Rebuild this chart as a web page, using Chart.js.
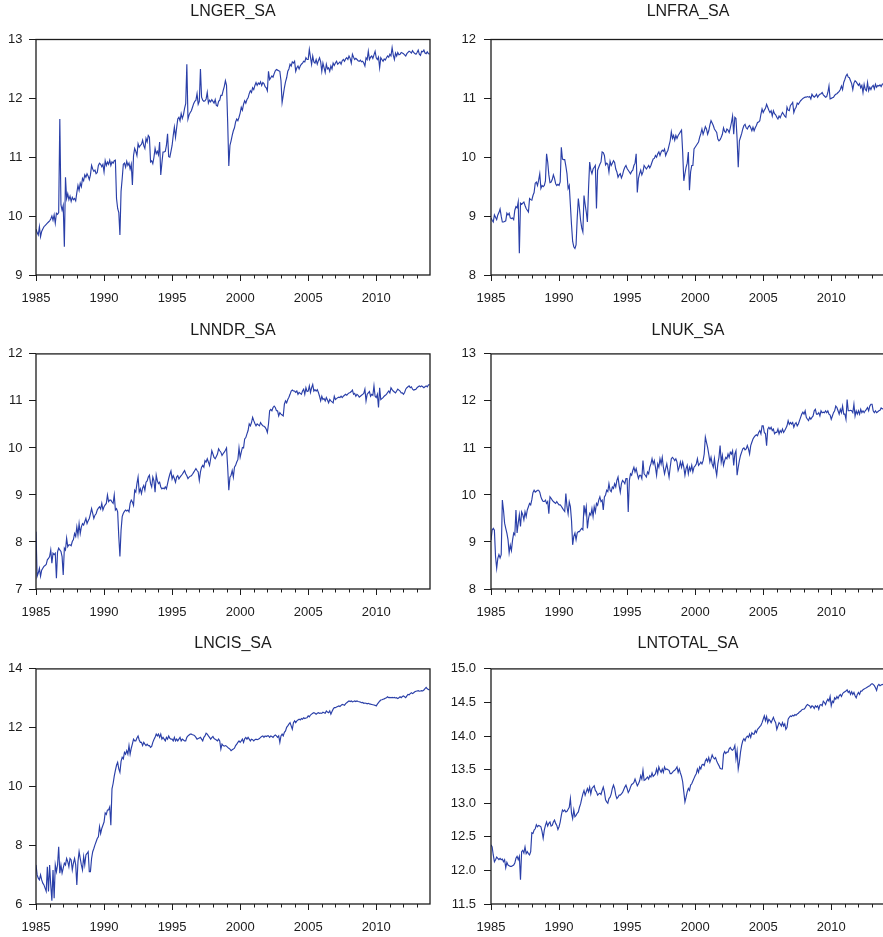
<!DOCTYPE html>
<html>
<head>
<meta charset="utf-8">
<title>LN series (SA)</title>
<script src="https://cdn.jsdelivr.net/npm/chart.js@4.4.1/dist/chart.umd.min.js"></script>
<style>
  html, body { margin: 0; padding: 0; background: #fff; overflow: hidden; }
  body { width: 883px; height: 937px; position: relative; }
  canvas { position: absolute; }
</style>
</head>
<body>
<canvas id="cGer"></canvas>
<canvas id="cFra"></canvas>
<canvas id="cNdr"></canvas>
<canvas id="cUk"></canvas>
<canvas id="cCis"></canvas>
<canvas id="cTotal"></canvas>
<script>
// monthly series, Jan 1985 .. Dec 2013 (one row per year)
const START_YEAR = 1985;
const X_MIN = 1985;
const X_MAX = 2013.95;
const X_TICKS = [1985, 1990, 1995, 2000, 2005, 2010];

const GER = [
  9.78, 9.72, 9.68, 9.82, 9.65, 9.74, 9.78, 9.82, 9.84, 9.86, 9.88, 9.90,
  9.92, 9.95, 10.00, 9.93, 10.02, 9.88, 10.05, 10.03, 10.06, 11.65, 10.19, 10.10,
  10.18, 9.48, 10.66, 10.30, 10.38, 10.28, 10.34, 10.25, 10.32, 10.28, 10.30, 10.26,
  10.40, 10.52, 10.44, 10.56, 10.50, 10.64, 10.60, 10.70, 10.66, 10.72, 10.68, 10.62,
  10.70, 10.86, 10.80, 10.76, 10.78, 10.72, 10.74, 10.86, 10.90, 10.88, 10.84, 10.88,
  10.75, 10.94, 10.86, 10.92, 10.88, 10.95, 10.86, 10.92, 10.90, 10.94, 10.95, 10.30,
  10.13, 10.06, 9.68, 10.42, 10.64, 10.88, 10.90, 10.83, 10.93, 10.86, 10.90, 10.80,
  10.88, 10.53, 11.03, 11.15, 11.10, 11.03, 11.23, 11.17, 11.20, 11.22, 11.29, 11.20,
  11.15, 11.32, 11.26, 11.37, 11.34, 10.92, 10.94, 10.89, 11.00, 11.15, 11.06, 11.10,
  11.04, 11.26, 10.70, 10.90, 11.09, 11.09, 11.10, 11.20, 11.40, 11.01, 11.00, 11.10,
  11.20, 11.37, 11.51, 11.34, 11.50, 11.65, 11.68, 11.62, 11.74, 11.66, 11.72, 11.83,
  11.91, 12.58, 11.65, 11.72, 11.76, 11.79, 11.85, 11.91, 11.95, 11.97, 12.08, 11.90,
  11.95, 12.50, 12.02, 11.97, 11.95, 11.96, 11.99, 12.10, 11.92, 11.97, 11.94, 11.98,
  11.95, 11.92, 11.98, 11.88, 11.87, 11.95, 11.97, 12.05, 12.05, 12.13, 12.20, 12.30,
  12.22, 11.60, 10.85, 11.20, 11.28, 11.37, 11.45, 11.50, 11.60, 11.65, 11.62, 11.68,
  11.75, 11.85, 11.80, 11.90, 11.96, 11.92, 11.98, 12.01, 12.08, 12.13, 12.10, 12.18,
  12.15, 12.22, 12.27, 12.22, 12.26, 12.24, 12.28, 12.22, 12.27, 12.25, 12.20, 12.18,
  12.13, 12.46, 12.32, 12.35, 12.38, 12.36, 12.42, 12.47, 12.49, 12.48, 12.47, 12.46,
  12.30, 11.93, 12.05, 12.18, 12.28, 12.35, 12.46, 12.50, 12.58, 12.55, 12.62, 12.60,
  12.63, 12.46, 12.52, 12.55, 12.50, 12.55, 12.58, 12.60, 12.63, 12.62, 12.69, 12.66,
  12.66, 12.83, 12.70, 12.58, 12.72, 12.62, 12.60, 12.66, 12.58, 12.64, 12.69, 12.62,
  12.46, 12.60, 12.52, 12.44, 12.58, 12.50, 12.52, 12.46, 12.55, 12.50, 12.60, 12.56,
  12.60, 12.63, 12.58, 12.60, 12.62, 12.58, 12.64, 12.66, 12.63, 12.67, 12.69, 12.66,
  12.72, 12.68, 12.60, 12.75, 12.70, 12.66, 12.68, 12.66, 12.64, 12.63, 12.65, 12.62,
  12.63, 12.60, 12.55, 12.69, 12.66, 12.80, 12.66, 12.70, 12.72, 12.68, 12.74, 12.80,
  12.69, 12.66, 12.70, 12.52, 12.69, 12.66, 12.63, 12.67, 12.65, 12.69, 12.72, 12.70,
  12.75, 12.72, 12.86, 12.74, 12.66, 12.77, 12.72, 12.78, 12.74, 12.75, 12.78, 12.77,
  12.76, 12.74, 12.72, 12.76, 12.78, 12.80, 12.79, 12.77, 12.81, 12.78, 12.76, 12.75,
  12.78, 12.82, 12.75, 12.73, 12.80, 12.79, 12.82, 12.77, 12.76, 12.79, 12.76, 12.75
];

const FRA = [
  8.97, 8.93, 8.90, 9.02, 8.98, 8.94, 9.02, 9.06, 9.12, 9.00, 8.90, 8.90,
  8.91, 8.92, 9.05, 9.02, 9.05, 8.97, 8.96, 8.97, 8.94, 9.10, 9.16, 9.14,
  9.24, 8.37, 9.22, 9.20, 9.22, 9.24, 9.18, 9.13, 9.10, 9.07, 9.30, 9.28,
  9.27, 9.35, 9.40, 9.56, 9.58, 9.52, 9.61, 9.72, 9.47, 9.52, 9.50, 9.52,
  9.60, 10.06, 9.92, 9.70, 9.57, 9.58, 9.62, 9.70, 9.64, 9.55, 9.52, 9.54,
  9.52, 9.58, 10.17, 9.97, 9.96, 9.96, 9.85, 9.72, 9.47, 9.52, 9.19, 8.85,
  8.57, 8.48, 8.45, 8.51, 8.96, 9.30, 9.13, 8.93, 8.80, 8.73, 9.35, 9.20,
  9.07, 8.90, 9.47, 9.92, 9.78, 9.72, 9.80, 9.83, 9.86, 9.13, 9.78, 9.83,
  9.88, 9.92, 10.09, 10.08, 10.03, 9.87, 9.90, 9.88, 9.75, 9.93, 9.86, 9.90,
  9.94, 9.91, 9.80, 9.75, 9.66, 9.70, 9.72, 9.65, 9.70, 9.78, 9.83, 9.86,
  9.81, 9.78, 9.75, 9.72, 9.76, 9.78, 9.86, 9.90, 10.06, 9.40, 9.64, 9.72,
  9.78, 9.70, 9.75, 9.86, 9.83, 9.80, 9.83, 9.86, 9.82, 9.86, 9.92, 9.97,
  9.98, 10.03, 10.00, 10.06, 10.09, 10.03, 10.09, 10.12, 10.10, 10.14, 10.03, 10.08,
  10.12, 10.20, 10.28, 10.43, 10.32, 10.37, 10.29, 10.37, 10.32, 10.37, 10.40, 10.43,
  10.46, 10.09, 9.60, 9.72, 9.83, 9.90, 10.09, 9.44, 9.75, 9.86, 9.86, 10.14,
  10.17, 10.20, 10.23, 10.26, 10.34, 10.40, 10.48, 10.39, 10.45, 10.52, 10.48, 10.39,
  10.45, 10.55, 10.62, 10.58, 10.54, 10.48, 10.45, 10.42, 10.31, 10.28, 10.30, 10.34,
  10.39, 10.50, 10.44, 10.42, 10.48, 10.46, 10.42, 10.50, 10.59, 10.70, 10.39, 10.68,
  10.66, 10.31, 9.83, 10.28, 10.34, 10.40, 10.48, 10.54, 10.56, 10.50, 10.48, 10.52,
  10.54, 10.50, 10.45, 10.51, 10.45, 10.50, 10.54, 10.59, 10.60, 10.62, 10.73, 10.82,
  10.76, 10.80, 10.83, 10.90, 10.85, 10.80, 10.76, 10.79, 10.70, 10.79, 10.74, 10.72,
  10.68, 10.65, 10.70, 10.67, 10.72, 10.76, 10.73, 10.70, 10.68, 10.85, 10.80, 10.79,
  10.88, 10.90, 10.93, 10.76, 10.82, 10.85, 10.92, 10.90, 10.93, 10.96, 10.98, 11.00,
  11.01, 11.02, 11.02, 11.03, 11.02, 11.03, 10.99, 11.07, 11.04, 11.02, 11.04, 11.07,
  11.02, 11.05, 11.07, 11.08, 11.10, 11.06, 11.04, 11.02, 11.03, 11.10, 11.21, 10.99,
  11.00, 11.01, 11.02, 11.05, 11.07, 11.08, 11.10, 11.12, 11.15, 11.21, 11.15, 11.27,
  11.32, 11.38, 11.41, 11.36, 11.35, 11.30, 11.25, 11.15, 11.26, 11.30, 11.28, 11.25,
  11.22, 11.25, 11.18, 11.22, 11.10, 11.24, 11.15, 11.13, 11.27, 11.13, 11.19, 11.15,
  11.20, 11.22, 11.16, 11.24, 11.19, 11.22, 11.21, 11.23, 11.20, 11.24, 11.25, 11.24
];

const NDR = [
  8.22, 7.27, 7.34, 7.44, 7.27, 7.40, 7.44, 7.48, 7.50, 7.52, 7.62, 7.65,
  7.69, 7.83, 7.55, 7.76, 7.73, 7.76, 7.23, 7.79, 7.87, 7.83, 7.80, 7.69,
  7.30, 7.87, 7.83, 8.08, 7.90, 7.94, 7.94, 7.92, 8.01, 8.05, 8.18, 8.12,
  8.32, 8.15, 8.39, 8.18, 8.32, 8.39, 8.36, 8.43, 8.50, 8.39, 8.45, 8.50,
  8.60, 8.71, 8.61, 8.50, 8.57, 8.60, 8.68, 8.72, 8.75, 8.70, 8.82, 8.68,
  8.75, 8.79, 8.82, 9.00, 8.86, 8.89, 8.89, 8.85, 8.82, 9.00, 8.68, 8.71,
  8.64, 8.11, 7.69, 8.25, 8.54, 8.61, 8.65, 8.68, 8.66, 8.68, 8.64, 8.82,
  8.89, 8.85, 8.78, 9.10, 9.06, 9.24, 9.38, 9.06, 9.13, 9.03, 9.15, 9.20,
  9.10, 9.27, 9.30, 9.38, 9.42, 9.24, 9.17, 9.38, 9.30, 9.06, 9.42, 9.30,
  9.24, 9.27, 9.17, 9.13, 9.15, 9.13, 9.17, 9.13, 9.24, 9.35, 9.44, 9.51,
  9.34, 9.41, 9.35, 9.27, 9.38, 9.41, 9.34, 9.38, 9.41, 9.44, 9.48, 9.52,
  9.45, 9.41, 9.35, 9.38, 9.40, 9.41, 9.44, 9.48, 9.52, 9.56, 9.52, 9.49,
  9.31, 9.49, 9.59, 9.63, 9.59, 9.73, 9.70, 9.77, 9.70, 9.63, 9.77, 9.94,
  9.87, 9.80, 9.77, 9.82, 9.87, 9.98, 9.94, 9.91, 9.84, 9.88, 9.91, 9.95,
  10.00, 9.59, 9.10, 9.38, 9.42, 9.52, 9.38, 9.59, 9.63, 9.70, 9.75, 10.00,
  9.80, 9.91, 10.01, 10.00, 10.19, 10.22, 10.30, 10.37, 10.51, 10.47, 10.54, 10.65,
  10.58, 10.52, 10.47, 10.51, 10.49, 10.47, 10.54, 10.50, 10.47, 10.46, 10.44, 10.40,
  10.33, 10.51, 10.79, 10.82, 10.79, 10.86, 10.89, 10.86, 10.79, 10.79, 10.68, 10.75,
  10.72, 10.70, 10.68, 10.93, 11.00, 10.96, 11.03, 11.08, 11.14, 11.21, 11.23, 11.21,
  11.21, 11.18, 11.21, 11.14, 11.18, 11.16, 11.14, 11.21, 11.25, 11.14, 11.28, 11.20,
  11.21, 11.32, 11.18, 11.28, 11.35, 11.21, 11.24, 11.21, 11.24, 11.18, 11.10, 11.00,
  11.10, 11.03, 11.05, 11.00, 11.07, 11.02, 10.96, 11.03, 11.00, 10.98, 10.96, 11.10,
  11.03, 11.05, 11.07, 11.08, 11.07, 11.10, 11.07, 11.10, 11.12, 11.14, 11.12, 11.15,
  11.17, 11.18, 11.20, 11.23, 11.14, 11.16, 11.10, 11.14, 11.12, 11.08, 11.10, 11.12,
  11.14, 11.16, 11.25, 11.00, 11.14, 11.17, 11.20, 11.10, 11.14, 11.12, 11.32, 11.10,
  11.07, 11.14, 10.86, 11.28, 11.03, 11.05, 11.07, 11.10, 11.12, 11.14, 11.18, 11.21,
  11.17, 11.28, 11.24, 11.21, 11.19, 11.17, 11.21, 11.25, 11.23, 11.21, 11.17, 11.17,
  11.14, 11.18, 11.25, 11.28, 11.30, 11.32, 11.28, 11.30, 11.25, 11.23, 11.24, 11.25,
  11.28, 11.30, 11.32, 11.30, 11.32, 11.30, 11.28, 11.30, 11.32, 11.30, 11.34, 11.35
];

const UK = [
  9.04, 9.25, 9.29, 9.25, 8.69, 8.44, 8.65, 8.73, 8.66, 8.73, 9.89, 9.68,
  9.40, 9.29, 9.19, 9.05, 8.77, 8.93, 8.82, 9.04, 9.19, 9.15, 9.68, 9.19,
  9.40, 9.58, 9.33, 9.64, 9.58, 9.47, 9.64, 9.54, 9.68, 9.75, 9.82, 9.79,
  9.90, 10.05, 10.10, 10.06, 10.08, 10.10, 10.10, 10.06, 9.96, 9.90, 9.86, 9.86,
  9.89, 9.82, 9.86, 9.60, 9.96, 9.93, 9.89, 9.86, 9.84, 9.82, 9.86, 9.82,
  9.79, 9.79, 9.76, 9.72, 9.68, 9.65, 10.03, 9.75, 9.60, 9.85, 9.75, 9.45,
  8.94, 9.12, 9.19, 9.05, 9.19, 9.22, 9.22, 9.26, 9.29, 9.26, 9.78, 9.61,
  9.75, 9.29, 9.50, 9.61, 9.57, 9.71, 9.54, 9.75, 9.64, 9.82, 9.78, 9.89,
  9.96, 9.86, 9.89, 9.68, 9.96, 10.00, 10.10, 10.07, 10.24, 10.10, 10.07, 10.17,
  10.14, 10.24, 10.17, 10.31, 10.38, 10.20, 10.06, 10.24, 10.31, 10.28, 10.24, 10.35,
  10.35, 9.64, 10.31, 10.45, 10.42, 10.52, 10.59, 10.49, 10.56, 10.45, 10.35, 10.42,
  10.42, 10.35, 10.73, 10.45, 10.42, 10.38, 10.49, 10.45, 10.59, 10.66, 10.77, 10.66,
  10.73, 10.59, 10.42, 10.66, 10.59, 10.77, 10.66, 10.80, 10.59, 10.45, 10.56, 10.66,
  10.52, 10.38, 10.59, 10.77, 10.80, 10.77, 10.73, 10.77, 10.70, 10.52, 10.59, 10.70,
  10.59, 10.70, 10.59, 10.42, 10.56, 10.63, 10.45, 10.59, 10.52, 10.63, 10.49, 10.59,
  10.62, 10.66, 10.77, 10.63, 10.66, 10.70, 10.66, 10.73, 10.87, 11.23, 11.12, 11.01,
  10.87, 10.70, 10.80, 10.66, 10.59, 10.77, 10.56, 10.42, 10.66, 10.80, 11.05, 10.70,
  10.84, 10.63, 10.73, 10.80, 10.77, 10.87, 10.80, 10.91, 10.87, 10.94, 10.63, 10.87,
  10.94, 10.42, 10.59, 10.73, 10.84, 10.91, 10.98, 11.00, 10.96, 10.98, 11.05, 10.98,
  10.87, 11.05, 11.12, 11.19, 11.23, 11.26, 11.28, 11.26, 11.33, 11.37, 11.30, 11.47,
  11.47, 11.33, 11.30, 11.05, 11.40, 11.44, 11.40, 11.44, 11.37, 11.40, 11.30, 11.33,
  11.33, 11.40, 11.30, 11.37, 11.33, 11.40, 11.33, 11.37, 11.42, 11.47, 11.58, 11.50,
  11.54, 11.51, 11.54, 11.44, 11.51, 11.54, 11.47, 11.51, 11.58, 11.65, 11.72, 11.76,
  11.72, 11.79, 11.65, 11.61, 11.58, 11.65, 11.61, 11.65, 11.68, 11.79, 11.82, 11.72,
  11.72, 11.75, 11.68, 11.79, 11.75, 11.76, 11.75, 11.79, 11.75, 11.79, 11.72, 11.70,
  11.61, 11.68, 11.75, 11.79, 11.89, 11.86, 11.79, 11.72, 11.82, 11.75, 11.89, 11.72,
  11.72, 11.61, 12.03, 11.79, 11.79, 11.80, 11.79, 11.75, 11.93, 11.68, 11.79, 11.72,
  11.79, 11.72, 11.82, 11.75, 11.79, 11.75, 11.79, 11.82, 11.86, 11.79, 11.89, 11.93,
  11.93, 11.79, 11.75, 11.79, 11.75, 11.77, 11.79, 11.80, 11.85, 11.83, 11.84, 11.85
];

const CIS = [
  7.33, 6.99, 6.88, 6.82, 6.99, 6.82, 6.71, 6.65, 6.54, 6.43, 7.27, 6.43,
  7.33, 6.65, 6.11, 7.16, 6.20, 7.33, 7.10, 7.33, 7.95, 7.05, 7.33, 7.05,
  7.22, 7.39, 7.33, 7.55, 7.44, 7.27, 7.55, 7.50, 7.16, 7.39, 7.55, 7.33,
  6.65, 7.44, 7.78, 7.55, 7.33, 7.16, 7.61, 7.33, 7.67, 7.72, 7.78, 7.10,
  7.10, 7.55, 7.78, 7.89, 8.01, 8.12, 8.23, 8.29, 8.63, 8.40, 8.57, 8.68,
  8.79, 9.10, 9.05, 9.20, 9.20, 9.30, 8.68, 9.92, 10.10, 10.35, 10.55, 10.72,
  10.82, 10.60, 10.48, 10.85, 10.99, 10.94, 11.16, 11.10, 11.22, 11.10, 11.39, 11.10,
  11.30, 11.45, 11.61, 11.55, 11.55, 11.65, 11.72, 11.58, 11.50, 11.50, 11.39, 11.50,
  11.44, 11.39, 11.44, 11.39, 11.39, 11.33, 11.36, 11.50, 11.60, 11.67, 11.78, 11.72,
  11.78, 11.67, 11.78, 11.61, 11.67, 11.61, 11.55, 11.67, 11.61, 11.72, 11.64, 11.61,
  11.61, 11.55, 11.67, 11.55, 11.61, 11.55, 11.61, 11.67, 11.55, 11.61, 11.58, 11.55,
  11.55, 11.67, 11.72, 11.75, 11.78, 11.78, 11.76, 11.75, 11.72, 11.67, 11.61, 11.63,
  11.65, 11.67, 11.61, 11.55, 11.67, 11.72, 11.81, 11.78, 11.72, 11.67, 11.61, 11.66,
  11.70, 11.63, 11.61, 11.58, 11.55, 11.61, 11.55, 11.27, 11.44, 11.39, 11.37, 11.39,
  11.37, 11.33, 11.30, 11.27, 11.22, 11.25, 11.27, 11.30, 11.39, 11.44, 11.50, 11.55,
  11.50, 11.55, 11.61, 11.50, 11.62, 11.67, 11.61, 11.67, 11.61, 11.55, 11.61, 11.59,
  11.55, 11.59, 11.61, 11.59, 11.61, 11.63, 11.67, 11.70, 11.72, 11.67, 11.72, 11.70,
  11.72, 11.72, 11.67, 11.72, 11.70, 11.67, 11.72, 11.75, 11.72, 11.67, 11.72, 11.50,
  11.72, 11.78, 11.72, 11.84, 11.89, 12.01, 12.06, 12.12, 12.17, 12.06, 11.95, 12.17,
  12.23, 12.17, 12.23, 12.26, 12.29, 12.26, 12.31, 12.29, 12.34, 12.31, 12.33, 12.34,
  12.40, 12.37, 12.43, 12.46, 12.49, 12.51, 12.49, 12.46, 12.49, 12.51, 12.49, 12.50,
  12.49, 12.53, 12.51, 12.49, 12.57, 12.53, 12.51, 12.57, 12.46, 12.55, 12.63, 12.68,
  12.68, 12.70, 12.72, 12.74, 12.72, 12.76, 12.79, 12.78, 12.76, 12.82, 12.85, 12.88,
  12.91, 12.89, 12.91, 12.88, 12.89, 12.91, 12.89, 12.91, 12.89, 12.88, 12.87, 12.85,
  12.86, 12.83, 12.84, 12.83, 12.81, 12.83, 12.81, 12.80, 12.79, 12.78, 12.77, 12.76,
  12.74, 12.80, 12.85, 12.90, 12.94, 12.95, 12.97, 12.98, 13.00, 13.02, 13.05, 13.02,
  13.03, 13.02, 13.03, 13.02, 13.03, 13.01, 13.02, 12.99, 13.02, 13.05, 13.02, 13.06,
  13.08, 13.05, 13.02, 13.08, 13.13, 13.12, 13.16, 13.19, 13.16, 13.19, 13.22, 13.24,
  13.25, 13.26, 13.24, 13.25, 13.26, 13.25, 13.28, 13.33, 13.37, 13.32, 13.30, 13.28
];

const TOTAL = [
  12.38, 12.35, 12.23, 12.13, 12.16, 12.20, 12.18, 12.16, 12.18, 12.16, 12.17, 12.13,
  12.16, 12.04, 12.12, 12.08, 12.07, 12.06, 12.06, 12.07, 12.08, 12.11, 12.18, 12.21,
  12.16, 12.21, 11.86, 12.28, 12.30, 12.26, 12.35, 12.25, 12.28, 12.25, 12.23, 12.28,
  12.56, 12.55, 12.60, 12.62, 12.68, 12.65, 12.67, 12.66, 12.65, 12.58, 12.48, 12.60,
  12.67, 12.72, 12.66, 12.70, 12.72, 12.66, 12.67, 12.72, 12.75, 12.70, 12.67, 12.61,
  12.65, 12.72, 12.82, 12.90, 12.88, 12.90, 12.87, 12.88, 12.91, 12.94, 13.07, 12.85,
  12.77, 12.90, 12.80, 12.82, 12.85, 12.87, 12.94, 12.99, 13.07, 13.14, 13.19, 13.12,
  13.17, 13.22, 13.17, 13.24, 13.14, 13.22, 13.24, 13.26, 13.19, 13.17, 13.12, 13.14,
  13.15, 13.13, 13.19, 13.24, 13.17, 13.05, 13.02, 13.00, 13.07, 13.09, 13.14, 13.22,
  13.27, 13.22, 13.12, 13.07, 13.09, 13.12, 13.12, 13.14, 13.16, 13.20, 13.24, 13.27,
  13.22, 13.16, 13.19, 13.24, 13.28, 13.29, 13.31, 13.36, 13.31, 13.26, 13.29, 13.33,
  13.41, 13.36, 13.49, 13.34, 13.35, 13.37, 13.39, 13.36, 13.41, 13.39, 13.45, 13.40,
  13.42, 13.44, 13.51, 13.44, 13.54, 13.49, 13.46, 13.51, 13.46, 13.54, 13.50, 13.51,
  13.50, 13.49, 13.44, 13.44, 13.46, 13.48, 13.49, 13.51, 13.54, 13.46, 13.51, 13.45,
  13.40, 13.32, 13.17, 13.02, 13.09, 13.17, 13.22, 13.19, 13.27, 13.29, 13.33, 13.37,
  13.41, 13.44, 13.51, 13.46, 13.54, 13.51, 13.57, 13.58, 13.56, 13.63, 13.66, 13.62,
  13.68, 13.61, 13.66, 13.72, 13.68, 13.66, 13.68, 13.63, 13.59, 13.56, 13.52, 13.51,
  13.51, 13.73, 13.77, 13.74, 13.76, 13.76, 13.81, 13.83, 13.80, 13.79, 13.81, 13.86,
  13.66, 13.78, 13.51, 13.61, 13.76, 13.86, 13.93, 13.96, 13.93, 13.98, 14.00, 13.98,
  14.03, 13.98, 14.05, 14.03, 14.03, 14.08, 14.05, 14.10, 14.12, 14.14, 14.16, 14.20,
  14.25, 14.30, 14.23, 14.29, 14.20, 14.25, 14.23, 14.20, 14.24, 14.28, 14.23, 14.20,
  14.10, 14.15, 14.20, 14.18, 14.15, 14.20, 14.15, 14.18, 14.10, 14.13, 14.25, 14.28,
  14.30, 14.29, 14.31, 14.30, 14.32, 14.31, 14.33, 14.34, 14.36, 14.37, 14.39, 14.40,
  14.40, 14.42, 14.45, 14.47, 14.46, 14.45, 14.42, 14.45, 14.44, 14.41, 14.45, 14.43,
  14.45, 14.40, 14.46, 14.47, 14.45, 14.52, 14.50, 14.47, 14.52, 14.55, 14.52, 14.59,
  14.45, 14.52, 14.50, 14.57, 14.55, 14.59, 14.56, 14.60, 14.62, 14.59, 14.63, 14.65,
  14.66, 14.67, 14.69, 14.65, 14.67, 14.62, 14.66, 14.62, 14.65, 14.60, 14.57, 14.62,
  14.65, 14.62, 14.67, 14.67, 14.69, 14.70, 14.71, 14.72, 14.73, 14.74, 14.75, 14.77,
  14.78, 14.77, 14.75, 14.72, 14.68, 14.75, 14.77, 14.75, 14.76, 14.77, 14.76, 14.77
];

// y tick values per panel
const GER_Y   = [9, 10, 11, 12, 13];
const FRA_Y   = [8, 9, 10, 11, 12];
const NDR_Y   = [7, 8, 9, 10, 11, 12];
const UK_Y    = [8, 9, 10, 11, 12, 13];
const CIS_Y   = [6, 8, 10, 12, 14];
const TOTAL_Y = [11.5, 12.0, 12.5, 13.0, 13.5, 14.0, 14.5, 15.0];

const LINE_COLOR = '#2a3fa8';
const INK        = '#1c1c1c';
const FONT       = 'Arial, "Liberation Sans", Helvetica, sans-serif';

// left, top, canvas width, y-axis width, y label gap, title padding [top, bottom]
const PANELS = [
  { id: 'cGer',   title: 'LNGER_SA',   data: GER,   yTicks: GER_Y,   dec: 0, left: 0,   top: 0,   w: 432, axisW: 36, yPad: 6.5, tPad: [1.5, 18.8] },
  { id: 'cFra',   title: 'LNFRA_SA',   data: FRA,   yTicks: FRA_Y,   dec: 0, left: 443, top: 0,   w: 444, axisW: 48, yPad: 8,   tPad: [1.5, 18.8] },
  { id: 'cNdr',   title: 'LNNDR_SA',   data: NDR,   yTicks: NDR_Y,   dec: 0, left: 0,   top: 314, w: 432, axisW: 36, yPad: 6.5, tPad: [7, 13.7] },
  { id: 'cUk',    title: 'LNUK_SA',    data: UK,    yTicks: UK_Y,    dec: 0, left: 443, top: 314, w: 444, axisW: 48, yPad: 8,   tPad: [7, 13.7] },
  { id: 'cCis',   title: 'LNCIS_SA',   data: CIS,   yTicks: CIS_Y,   dec: 0, left: 0,   top: 629, w: 432, axisW: 36, yPad: 6.5, tPad: [4.5, 16.2] },
  { id: 'cTotal', title: 'LNTOTAL_SA', data: TOTAL, yTicks: TOTAL_Y, dec: 1, left: 443, top: 629, w: 444, axisW: 48, yPad: 8,   tPad: [4.5, 16.2] },
];
const CANVAS_H = 310;
const X_AXIS_H = 35;

// box around the plot area + the small yearly ticks
const framePlugin = {
  id: 'frame',
  afterDraw(chart) {
    const { ctx, chartArea: a, scales: { x } } = chart;
    ctx.save();
    ctx.strokeStyle = INK;
    ctx.lineWidth = 1.3;
    ctx.strokeRect(a.left, a.top, a.right - a.left, a.bottom - a.top);
    ctx.lineWidth = 1;
    ctx.beginPath();
    for (let yr = Math.ceil(X_MIN); yr <= X_MAX; yr++) {
      if (yr % 5 === 0) continue;
      const px = Math.round(x.getPixelForValue(yr)) + 0.5;
      ctx.moveTo(px, a.bottom);
      ctx.lineTo(px, a.bottom + 3.5);
    }
    ctx.stroke();
    ctx.restore();
  }
};

function toPoints(values) {
  return values.map((v, i) => ({ x: START_YEAR + i / 12, y: v }));
}

function buildPanel(p) {
  const cv = document.getElementById(p.id);
  cv.width = p.w;
  cv.height = CANVAS_H;
  cv.style.left = p.left + 'px';
  cv.style.top = p.top + 'px';

  const yMin = p.yTicks[0];
  const yMax = p.yTicks[p.yTicks.length - 1];

  return new Chart(cv, {
    type: 'line',
    data: {
      datasets: [{
        label: p.title,
        data: toPoints(p.data),
        borderColor: LINE_COLOR,
        borderWidth: 1.15,
        pointRadius: 0,
        tension: 0,
        fill: false,
      }],
    },
    options: {
      responsive: false,
      animation: false,
      devicePixelRatio: 1,
      events: [],
      layout: { padding: { left: 0, right: 2, top: 0, bottom: 0 } },
      plugins: {
        legend: { display: false },
        tooltip: { enabled: false },
        title: {
          display: true,
          text: p.title,
          fullSize: false,
          color: INK,
          font: { family: FONT, size: 16, weight: 'normal', lineHeight: 1.2 },
          padding: { top: p.tPad[0], bottom: p.tPad[1] },
        },
      },
      scales: {
        x: {
          type: 'linear',
          min: X_MIN,
          max: X_MAX,
          afterBuildTicks: s => { s.ticks = X_TICKS.map(v => ({ value: v })); },
          afterFit: s => { s.height = X_AXIS_H; },
          ticks: {
            autoSkip: false,
            maxRotation: 0,
            padding: 9.5,
            color: INK,
            font: { family: FONT, size: 13 },
            callback: v => String(v),
          },
          grid: { drawOnChartArea: false, tickLength: 6, tickColor: INK, tickWidth: 1 },
          border: { display: false },
        },
        y: {
          type: 'linear',
          min: yMin,
          max: yMax,
          afterBuildTicks: s => { s.ticks = p.yTicks.map(v => ({ value: v })); },
          afterFit: s => { s.width = p.axisW; },
          ticks: {
            padding: p.yPad,
            color: INK,
            font: { family: FONT, size: 13 },
            callback: v => v.toFixed(p.dec),
          },
          grid: { drawOnChartArea: false, tickLength: 7, tickColor: INK, tickWidth: 1 },
          border: { display: false },
        },
      },
    },
    plugins: [framePlugin],
  });
}

PANELS.forEach(buildPanel);
</script>
</body>
</html>
